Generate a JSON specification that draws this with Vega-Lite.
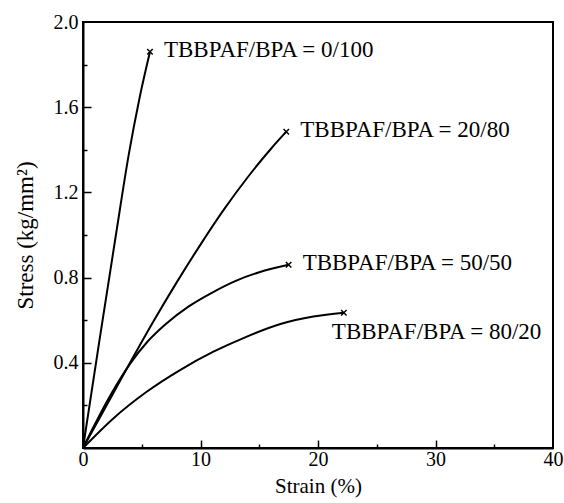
{
  "$schema": "https://vega.github.io/schema/vega-lite/v6.json",
  "width": 470,
  "height": 426,
  "autosize": {"type": "none"},
  "padding": {"left": 83, "top": 22, "right": 11, "bottom": 55},
  "background": "white",
  "config": {
    "font": "Liberation Serif",
    "view": {"stroke": "black", "strokeWidth": 2}
  },
  "resolve": {"axis": {"x": "independent", "y": "independent"}},
  "data": {"values": [
    {"series": "0/100", "strain": 0, "stress": 0, "end": false, "label": ""},
    {"series": "0/100", "strain": 1.4, "stress": 0.505, "end": false, "label": ""},
    {"series": "0/100", "strain": 2.8, "stress": 1.0, "end": false, "label": ""},
    {"series": "0/100", "strain": 3.9, "stress": 1.38, "end": false, "label": ""},
    {"series": "0/100", "strain": 4.8, "stress": 1.64, "end": false, "label": ""},
    {"series": "0/100", "strain": 5.7, "stress": 1.86, "end": true, "label": "TBBPAF/BPA = 0/100"},
    {"series": "20/80", "strain": 0, "stress": 0, "end": false, "label": ""},
    {"series": "20/80", "strain": 2, "stress": 0.2, "end": false, "label": ""},
    {"series": "20/80", "strain": 4, "stress": 0.4, "end": false, "label": ""},
    {"series": "20/80", "strain": 6, "stress": 0.595, "end": false, "label": ""},
    {"series": "20/80", "strain": 8, "stress": 0.78, "end": false, "label": ""},
    {"series": "20/80", "strain": 10, "stress": 0.955, "end": false, "label": ""},
    {"series": "20/80", "strain": 12, "stress": 1.12, "end": false, "label": ""},
    {"series": "20/80", "strain": 14, "stress": 1.27, "end": false, "label": ""},
    {"series": "20/80", "strain": 16, "stress": 1.405, "end": false, "label": ""},
    {"series": "20/80", "strain": 17.3, "stress": 1.485, "end": true, "label": "TBBPAF/BPA = 20/80"},
    {"series": "50/50", "strain": 0, "stress": 0, "end": false, "label": ""},
    {"series": "50/50", "strain": 1, "stress": 0.11, "end": false, "label": ""},
    {"series": "50/50", "strain": 2, "stress": 0.215, "end": false, "label": ""},
    {"series": "50/50", "strain": 3, "stress": 0.31, "end": false, "label": ""},
    {"series": "50/50", "strain": 4, "stress": 0.395, "end": false, "label": ""},
    {"series": "50/50", "strain": 5.5, "stress": 0.5, "end": false, "label": ""},
    {"series": "50/50", "strain": 7, "stress": 0.58, "end": false, "label": ""},
    {"series": "50/50", "strain": 9, "stress": 0.665, "end": false, "label": ""},
    {"series": "50/50", "strain": 11, "stress": 0.73, "end": false, "label": ""},
    {"series": "50/50", "strain": 13, "stress": 0.785, "end": false, "label": ""},
    {"series": "50/50", "strain": 15, "stress": 0.825, "end": false, "label": ""},
    {"series": "50/50", "strain": 17.5, "stress": 0.86, "end": true, "label": "TBBPAF/BPA = 50/50"},
    {"series": "80/20", "strain": 0, "stress": 0, "end": false, "label": ""},
    {"series": "80/20", "strain": 2.58, "stress": 0.139, "end": false, "label": ""},
    {"series": "80/20", "strain": 5.42, "stress": 0.264, "end": false, "label": ""},
    {"series": "80/20", "strain": 8.26, "stress": 0.366, "end": false, "label": ""},
    {"series": "80/20", "strain": 11.1, "stress": 0.452, "end": false, "label": ""},
    {"series": "80/20", "strain": 13.9, "stress": 0.522, "end": false, "label": ""},
    {"series": "80/20", "strain": 16.8, "stress": 0.582, "end": false, "label": ""},
    {"series": "80/20", "strain": 19.6, "stress": 0.617, "end": false, "label": ""},
    {"series": "80/20", "strain": 22.2, "stress": 0.635, "end": true, "label": "TBBPAF/BPA = 80/20"}
  ]},
  "layer": [
    {
      "mark": {"type": "line", "color": "black", "strokeWidth": 2, "interpolate": "monotone"},
      "encoding": {
        "x": {
          "field": "strain", "type": "quantitative",
          "scale": {"domain": [0, 40], "nice": false},
          "axis": {
            "orient": "bottom",
            "values": [0, 10, 20, 30, 40],
            "grid": false,
            "ticks": false,
            "domainColor": "black", "domainWidth": 2,
            "labelColor": "black", "labelFont": "Liberation Serif", "labelFontSize": 20,
            "labelFlush": false, "labelOverlap": false, "labelPadding": 1,
            "title": "Strain (%)",
            "titleColor": "black", "titleFont": "Liberation Serif", "titleFontWeight": "normal",
            "titleFontSize": 21, "titlePadding": 6
          }
        },
        "y": {
          "field": "stress", "type": "quantitative",
          "scale": {"domain": [0, 2], "nice": false},
          "axis": {
            "orient": "left",
            "values": [0.4, 0.8, 1.2, 1.6, 2.0],
            "grid": false,
            "ticks": false,
            "domainColor": "black", "domainWidth": 2,
            "labelColor": "black", "labelFont": "Liberation Serif", "labelFontSize": 20,
            "labelFlush": false, "labelOverlap": false, "labelPadding": 5,
            "format": ".1f",
            "title": "Stress (kg/mm²)",
            "titleColor": "black", "titleFont": "Liberation Serif", "titleFontWeight": "normal",
            "titleFontSize": 23, "titlePadding": 16
          }
        },
        "detail": {"field": "series"}
      }
    },
    {
      "transform": [{"filter": "datum.end"}],
      "mark": {"type": "point", "shape": "M-1,-1L1,1M-1,1L1,-1", "filled": false, "stroke": "black", "strokeWidth": 1.5, "size": 30, "opacity": 1},
      "encoding": {
        "x": {"field": "strain", "type": "quantitative",
          "axis": {"orient": "bottom", "values": [5, 15, 25, 35], "grid": false, "domain": false, "labels": false, "title": null, "tickColor": "black", "tickWidth": 1.5, "tickSize": -4}},
        "y": {"field": "stress", "type": "quantitative",
          "axis": {"orient": "left", "values": [0.2, 0.6, 1.0, 1.4, 1.8], "grid": false, "domain": false, "labels": false, "title": null, "tickColor": "black", "tickWidth": 1.5, "tickSize": -4}}
      }
    },
    {
      "transform": [{"filter": "datum.end && datum.series != '80/20'"}],
      "mark": {"type": "text", "align": "left", "baseline": "middle", "dx": 14, "dy": -2, "fontSize": 23, "font": "Liberation Serif", "color": "black"},
      "encoding": {
        "x": {"field": "strain", "type": "quantitative",
          "axis": {"orient": "bottom", "values": [10, 20, 30], "grid": false, "domain": false, "labels": false, "title": null, "tickColor": "black", "tickWidth": 1.5, "tickSize": -8}},
        "y": {"field": "stress", "type": "quantitative",
          "axis": {"orient": "left", "values": [0.4, 0.8, 1.2, 1.6], "grid": false, "domain": false, "labels": false, "title": null, "tickColor": "black", "tickWidth": 1.5, "tickSize": -8}},
        "text": {"field": "label"}
      }
    },
    {
      "transform": [{"filter": "datum.end && datum.series == '80/20'"}],
      "mark": {"type": "text", "align": "left", "baseline": "middle", "dx": -12, "dy": 19, "fontSize": 23, "font": "Liberation Serif", "color": "black"},
      "encoding": {
        "x": {"field": "strain", "type": "quantitative", "axis": null},
        "y": {"field": "stress", "type": "quantitative", "axis": null},
        "text": {"field": "label"}
      }
    }
  ]
}
